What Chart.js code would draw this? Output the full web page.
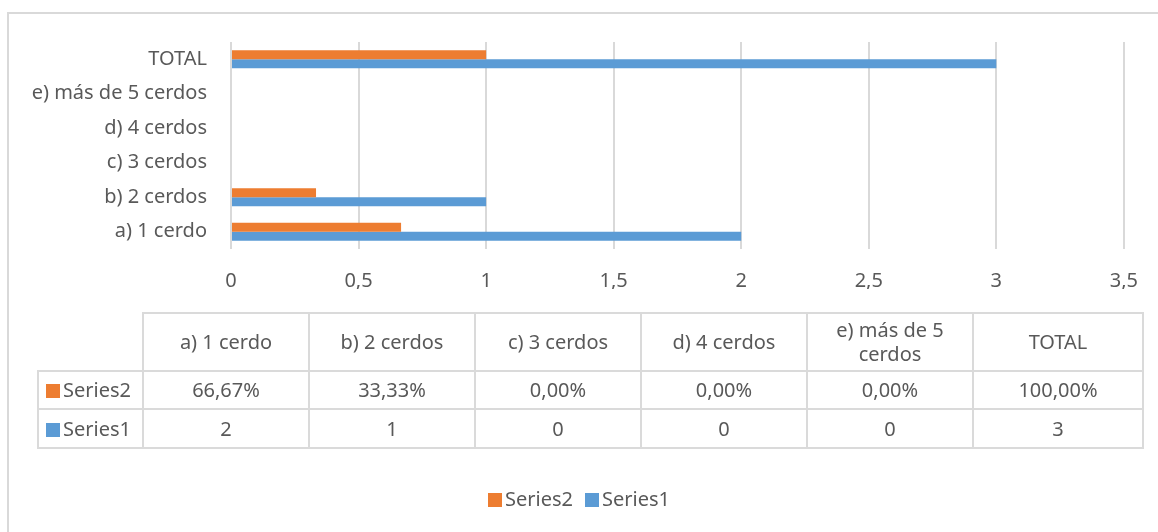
<!DOCTYPE html>
<html>
<head>
<meta charset="utf-8">
<script src="https://cdn.jsdelivr.net/npm/chart.js@4.4.1/dist/chart.umd.min.js"></script>
<style>
  body { margin: 0; background: #fff; font-family: "Noto Sans", sans-serif; color: #595959; }
  #wrap { position: relative; width: 1158px; height: 532px; overflow: hidden; }
  #frame { position: absolute; left: 7px; top: 12px; width: 1200px; height: 600px; border-left: 2px solid #d9d9d9; border-top: 2px solid #d9d9d9; }
  #myChart { position: absolute; left: 0; top: 0; }
  #tbl { position: absolute; left: 37px; top: 312px; width: 1105px; border-collapse: collapse; table-layout: fixed; font-size: 20px; }
  #tbl td { border: 2px solid #dadada; text-align: center; padding: 0; line-height: 1.2; }
  #tbl td.blank { border-top: none; border-left: none; }
  #tbl td.name { text-align: left; padding: 0 0 0 7px; white-space: nowrap; }
  #tbl td div { margin: 0 auto; max-width: 134px; }
  .key { display: inline-block; width: 14px; height: 14px; margin-right: 3px; vertical-align: -1px; }
  #legend { position: absolute; top: 485px; left: 0; width: 1158px; text-align: center; font-size: 20px; }
  #legend span.item { margin: 0 6px; }
</style>
</head>
<body>
<div id="wrap">
  <div id="frame"></div>
  <canvas id="myChart" width="1158" height="532"></canvas>
  <table id="tbl"></table>
  <div id="legend"></div>
</div>
<script>
    var categories = ['a) 1 cerdo', 'b) 2 cerdos', 'c) 3 cerdos', 'd) 4 cerdos', 'e) más de 5 cerdos', 'TOTAL']
    var series2 = [0.6667, 0.3333, 0, 0, 0, 1]
    var series1 = [2, 1, 0, 0, 0, 3]
    var series2Text = ['66,67%', '33,33%', '0,00%', '0,00%', '0,00%', '100,00%']
    var xTicks = [0, 0.5, 1, 1.5, 2, 2.5, 3, 3.5]

    var orange = '#ED7D31'
    var blue = '#5B9BD5'
    var textColor = '#595959'

    Chart.defaults.font.family = '"Noto Sans", sans-serif'
    Chart.defaults.color = textColor

    var ctx = document.getElementById('myChart').getContext('2d');
    var myChart = new Chart(ctx, {
        type: 'bar',
        data: {
            labels: categories,
            datasets: [{
                label: 'Series2',
                data: series2,
                backgroundColor: orange,
                barPercentage: 1,
                categoryPercentage: 0.52
            }, {
                label: 'Series1',
                data: series1,
                backgroundColor: blue,
                barPercentage: 1,
                categoryPercentage: 0.52
            }]
        },
        options: {
            indexAxis: 'y',
            responsive: false,
            animation: false,
            layout: {
                padding: { left: 0, right: 33, top: 42, bottom: 243 }
            },
            plugins: {
                legend: { display: false },
                tooltip: { enabled: false }
            },
            scales: {
                y: {
                    reverse: true,
                    grid: { display: false },
                    border: { display: false },
                    ticks: { padding: 16, font: { size: 20 }, color: textColor },
                    afterFit: function(scale) { scale.width = 231 }
                },
                x: {
                    min: 0,
                    max: 3.5,
                    afterBuildTicks: function(scale) {
                        scale.ticks = xTicks.map(function(v) { return { value: v } })
                    },
                    grid: { color: '#d9d9d9', lineWidth: 2, drawTicks: false },
                    border: { display: false },
                    ticks: {
                        padding: 20,
                        font: { size: 20 },
                        color: textColor,
                        callback: function(v) { return String(v).replace('.', ',') }
                    },
                    afterFit: function(scale) { scale.height = 40 }
                }
            }
        }
    });

    // data table under the chart
    var tbl = document.getElementById('tbl')
    var html = '<colgroup><col style="width:105px">'
    categories.forEach(function(c, i) {
        html += '<col style="width:' + (i == categories.length - 1 ? 170 : 166) + 'px">'
    })
    html += '</colgroup>'
    html += '<tr style="height:58px"><td class="blank"></td>'
    categories.forEach(function(c) { html += '<td><div>' + c + '</div></td>' })
    html += '</tr>'
    html += '<tr style="height:38px"><td class="name"><span class="key" style="background:' + orange + '"></span>Series2</td>'
    series2Text.forEach(function(t) { html += '<td>' + t + '</td>' })
    html += '</tr>'
    html += '<tr style="height:39px"><td class="name"><span class="key" style="background:' + blue + '"></span>Series1</td>'
    series1.forEach(function(v) { html += '<td>' + v + '</td>' })
    html += '</tr>'
    tbl.innerHTML = html

    document.getElementById('legend').innerHTML =
        '<span class="item"><span class="key" style="background:' + orange + '"></span>Series2</span>' +
        '<span class="item"><span class="key" style="background:' + blue + '"></span>Series1</span>'
</script>
</body>
</html>
